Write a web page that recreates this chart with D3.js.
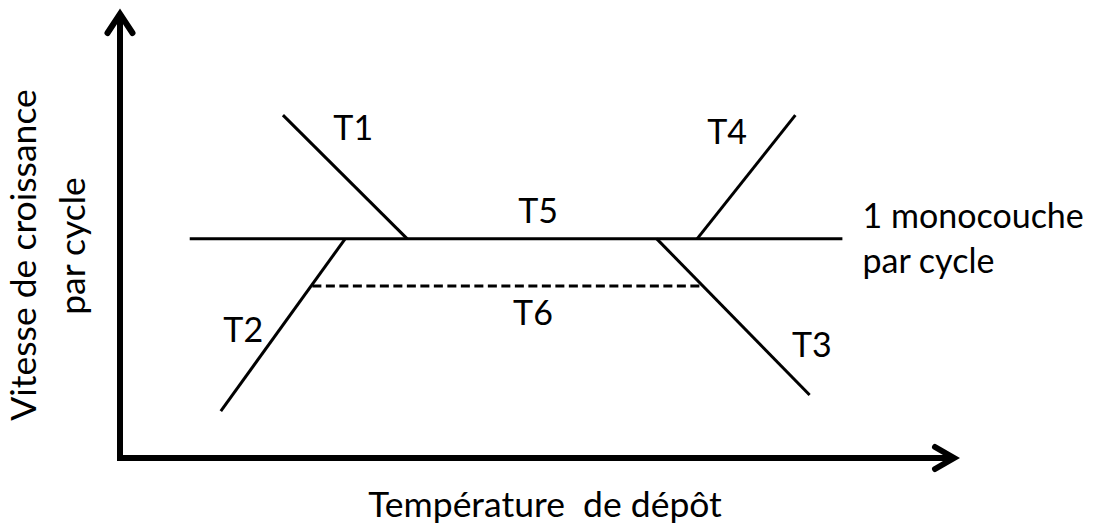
<!DOCTYPE html>
<html>
<head>
<meta charset="utf-8">
<script src="https://cdn.jsdelivr.net/npm/d3@7"></script>
<style>
  html, body { margin: 0; padding: 0; background: #fff; }
  svg { display: block; }
  text { font-family: Lato, "Open Sans", sans-serif; fill: #000; white-space: pre; }
</style>
</head>
<body>
<svg id="chart" width="1094" height="526"></svg>
<script>
// Schematic data (x: deposition temperature, y: growth rate per cycle, both 0..100 arbitrary units)
const segNames  = ["T5", "T1", "T2", "T4", "T3", "T6"];
const segX1     = [8.3, 19.4, 12.0, 68.7, 63.9, 22.9];
const segY1     = [48.7, 76.2, 10.4, 48.7, 48.7, 38.2];
const segX2     = [86.0, 34.2, 26.8, 80.4, 82.1, 69.3];
const segY2     = [48.7, 48.7, 48.7, 76.2, 14.0, 38.2];
const segDashed = [false, false, false, false, false, true];

const labelText = ["T1", "T2", "T3", "T4", "T5", "T6"];
const labelX    = [25.4, 12.3, 80.0, 69.9, 47.4, 46.8];
const labelY    = [70.7, 25.8, 22.4, 69.8, 52.2, 29.6];

const noteLines = ["1 monocouche", "par cycle"];
const noteX     = 88.4;
const noteY     = [51.1, 41.1];

const xTitle = "Température  de dépôt";
const yTitleLines = ["Vitesse de croissance", "par cycle"];

const W = 1094, H = 526;
const svg = d3.select("#chart");
const x = d3.scaleLinear().domain([0, 100]).range([120, 960]);
const y = d3.scaleLinear().domain([0, 100]).range([458, 8]);

// Axes with arrowheads
const axisW = 6;
const x0 = x(0), y0 = y(0);
const yTip = y.range()[1] + 6, xTip = x.range()[1] - 6;
svg.append("path")
  .attr("d", d3.line()([[x0, yTip + 2], [x0, y0], [xTip - 2, y0]]))
  .attr("fill", "none").attr("stroke", "#000").attr("stroke-width", axisW)
  .attr("stroke-linejoin", "miter");
svg.append("path")
  .attr("d", d3.line()([[x0 - 12.5, yTip + 19], [x0, yTip], [x0 + 12.5, yTip + 19]]))
  .attr("fill", "none").attr("stroke", "#000").attr("stroke-width", axisW)
  .attr("stroke-linejoin", "miter").attr("stroke-linecap", "round");
svg.append("path")
  .attr("d", d3.line()([[xTip - 19, y0 - 11], [xTip, y0], [xTip - 19, y0 + 11]]))
  .attr("fill", "none").attr("stroke", "#000").attr("stroke-width", axisW)
  .attr("stroke-linejoin", "miter").attr("stroke-linecap", "round");

// Segments
const segs = segNames.map((n, i) => ({ n, x1: segX1[i], y1: segY1[i], x2: segX2[i], y2: segY2[i], dashed: segDashed[i] }));
svg.append("g").selectAll("line").data(segs).join("line")
  .attr("x1", d => x(d.x1)).attr("y1", d => y(d.y1))
  .attr("x2", d => x(d.x2)).attr("y2", d => y(d.y2))
  .attr("stroke", "#000").attr("stroke-width", 3)
  .attr("stroke-dasharray", d => d.dashed ? "9,4.5" : null);

// Labels
const fs = 34, fsTitle = 35.5;
svg.append("g").selectAll("text").data(labelText).join("text")
  .attr("x", (d, i) => x(labelX[i])).attr("y", (d, i) => y(labelY[i]))
  .attr("font-size", fs).text(d => d);

svg.append("g").selectAll("text").data(noteLines).join("text")
  .attr("x", x(noteX)).attr("y", (d, i) => y(noteY[i]))
  .attr("font-size", fs).text(d => d);

// Axis titles
svg.append("text").attr("x", 545).attr("y", 517)
  .attr("text-anchor", "middle").attr("font-size", fsTitle).text(xTitle);
const yCenters = [255, 246], yBase = [36, 85];
svg.append("g").selectAll("text").data(yTitleLines).join("text")
  .attr("transform", (d, i) => `translate(${yBase[i]},${yCenters[i]}) rotate(-90)`)
  .attr("text-anchor", "middle").attr("font-size", fsTitle).text(d => d);
</script>
</body>
</html>
